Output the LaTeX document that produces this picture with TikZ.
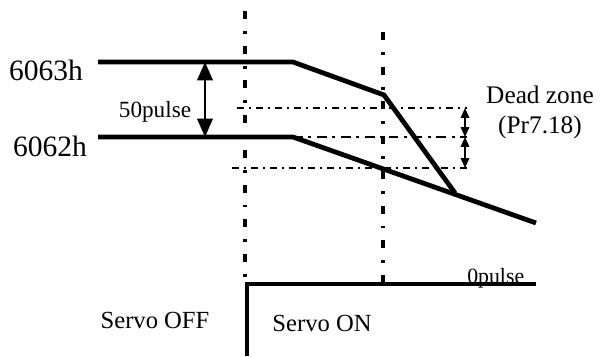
\documentclass[tikz,border=0pt]{standalone}
\usepackage{fontspec}
\setmainfont{Liberation Serif}
\usetikzlibrary{arrows.meta, positioning}

\begin{document}
\begin{tikzpicture}[
    x=0.025cm, y=-0.025cm,
    sig/.style={line width=3.4pt, line join=miter},
    guide/.style={line width=2.8pt, dash pattern=on 5.7pt off 8.5pt on 2pt off 8.5pt},
    band/.style={line width=1pt, dash pattern=on 5pt off 3.5pt on 1.5pt off 3.5pt},
    midband/.style={line width=1.8pt, dash pattern=on 7pt off 4pt on 2pt off 4pt},
    dim/.style={{Triangle[length=13pt,width=11pt]}-{Triangle[length=13pt,width=11pt]}, line width=1.6pt},
    dimsmall/.style={{Triangle[length=7pt,width=6pt]}-{Triangle[length=7pt,width=6pt]}, line width=1.2pt},
    lbl/.style={inner sep=0pt, font=\fontsize{17.5}{19}\selectfont}
]
    \useasboundingbox (0,0) rectangle (606,356);

    % Points of the two curves
    \coordinate (hiL) at (98,62);
    \coordinate (hiK) at (293,62);
    \coordinate (hiM) at (384,95);
    \coordinate (hiE) at (455,193);
    \coordinate (loL) at (98,137);
    \coordinate (loK) at (293,137);
    \coordinate (loE) at (536,223);

    % Guide lines
    \coordinate (g1T) at (245,11);
    \coordinate (g1B) at (245,284);
    \coordinate (g2T) at (383,32);
    \coordinate (g2B) at (383,283);
    \draw[guide] (g1T) -- (g1B);
    \draw[guide] (g2T) -- (g2B);

    % Dead zone band
    \coordinate (bU1) at (237,108);
    \coordinate (bU2) at (467,108);
    \coordinate (bM2) at (467,137);
    \coordinate (bD1) at (232,168);
    \coordinate (bD2) at (467,168);
    \draw[band] (bU1) -- (bU2);
    \draw[midband] (loK) -- (bM2);
    \draw[band] (bD1) -- (bD2);
    \coordinate (aU) at (465,108);
    \coordinate (aM) at (465,137);
    \coordinate (aD) at (465,168);
    \draw[dimsmall] (aU) -- (aM);
    \draw[dimsmall] (aM) -- (aD);

    % Position curves
    \draw[sig] (hiL) -- (hiK) -- (hiM) -- (hiE);
    \draw[sig] (loL) -- (loK) -- (loE);

    % 50pulse gap
    \coordinate (pT) at (205,62);
    \coordinate (pB) at (205,137);
    \draw[dim] (pT) -- (pB);

    % Servo signal
    \coordinate (sB) at (247,356);
    \coordinate (sK) at (247,284);
    \coordinate (sE) at (536,284);
    \draw[sig] (sB) -- (sK) -- (sE);

    % Labels
    \node[lbl, font=\fontsize{21}{23}\selectfont] (hiTxt) at (46,70) {6063h};
    \node[lbl, font=\fontsize{21}{23}\selectfont] (loTxt) at (50,146) {6062h};
    \node[lbl, font=\fontsize{16.5}{18}\selectfont] (gapTxt) at (155,112) {50pulse};
    \node[lbl, font=\fontsize{18}{20}\selectfont] (dzTxt) at (540,95) {Dead zone};
    \node[lbl, font=\fontsize{18}{20}\selectfont] (prTxt) at (540,127) {(Pr7.18)};
    \node[lbl, font=\fontsize{15.5}{17}\selectfont, anchor=base west] (zeroTxt) at (467,283) {0pulse};
    \node[lbl] (offTxt) at (155,320) {Servo OFF};
    \node[lbl] (onTxt) at (322,323) {Servo ON};
\end{tikzpicture}
\end{document}
